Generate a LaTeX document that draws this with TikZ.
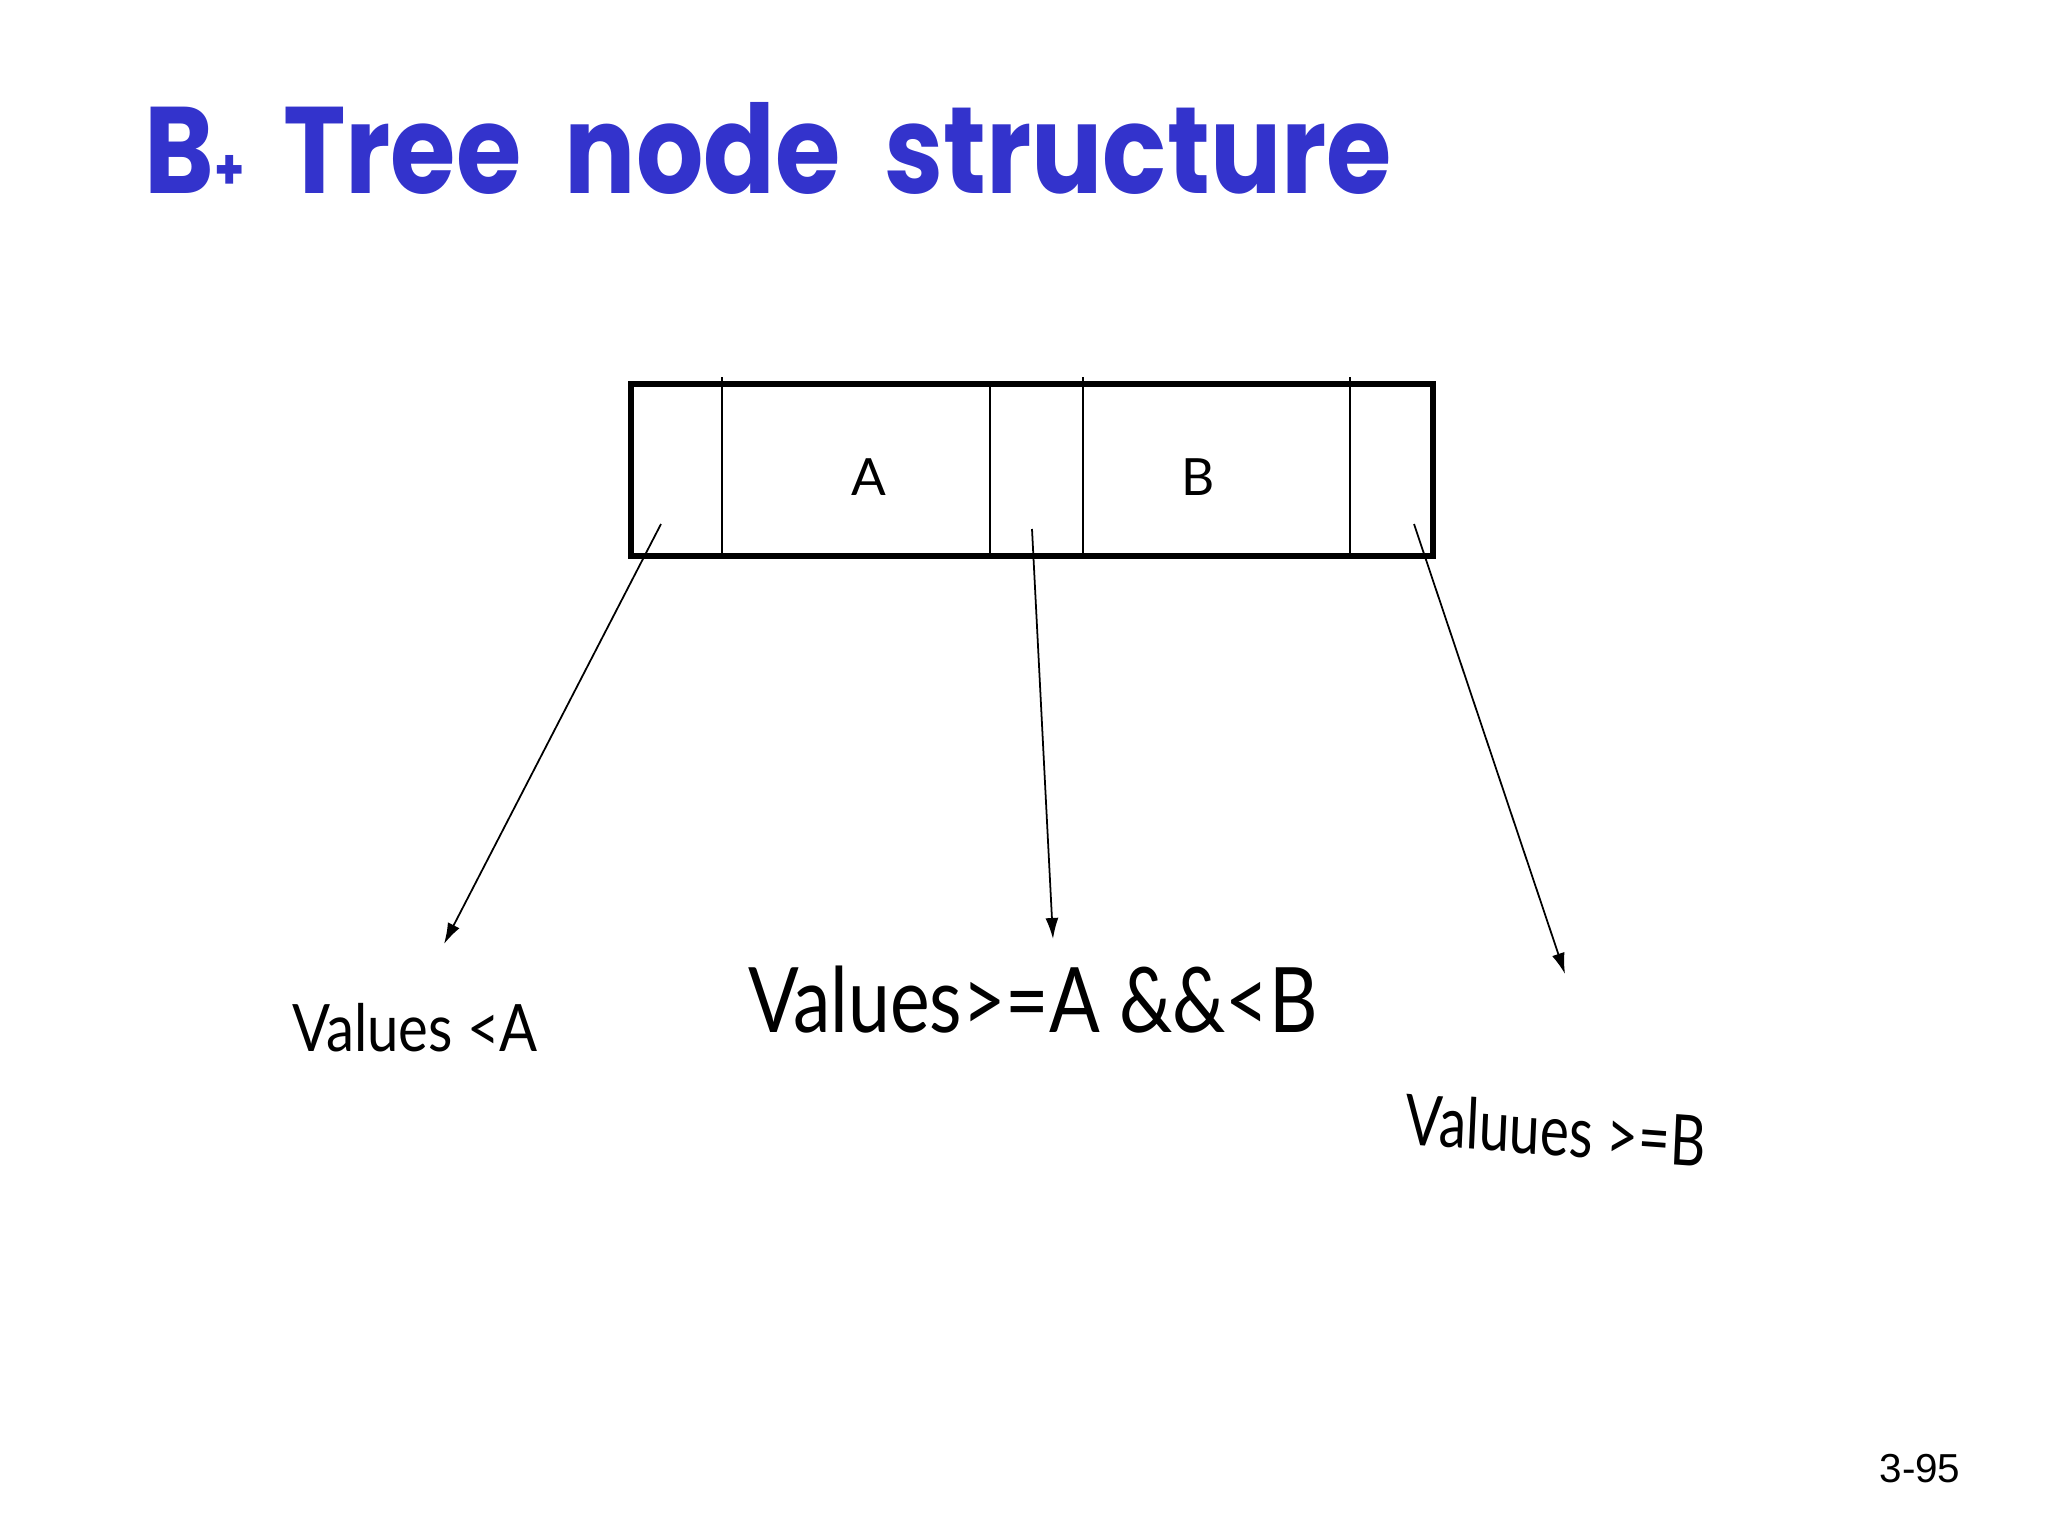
\documentclass[tikz,border=0pt]{standalone}
\usepackage{fontspec}
\setmainfont{Lato}
\newfontfamily\titlefont{Poppins}
\newfontfamily\pagefont{Liberation Sans}
\usetikzlibrary{arrows.meta,positioning}
\definecolor{titleblue}{RGB}{51,51,204}

\begin{document}
\begin{tikzpicture}[
  x=0.01cm, y=-0.01cm,
  keybox/.style={draw, line width=1.6pt, minimum width=8.02cm, minimum height=1.72cm, inner sep=0pt},
  divider/.style={line width=0.4pt},
  keylabel/.style={font=\fontsize{14.6}{16}\selectfont, inner sep=0pt},
  rangelabel/.style={font=\fontsize{18.6}{22}\selectfont, inner sep=0pt},
  ptr/.style={-{Latex[length=2.1mm,width=1.3mm]}, line width=0.5pt}
]
\useasboundingbox (0,0) rectangle (2048,1536);

% title
\node[anchor=base west, inner sep=0pt, text=titleblue, xscale=0.86,
      font=\titlefont\bfseries\fontsize{35}{40}\selectfont] (title) at (144,193)
  {B\raisebox{1pt}{\fontsize{16}{16}\selectfont+}\hspace{0.15em} Tree\hspace{0.2em} node\hspace{0.2em} structure};

% node with two keys and three pointers
\node[keybox] (bnode) at (1032,470) {};
\draw[divider] (722,377) -- (722,556);
\draw[divider] (990,384) -- (990,556);
\draw[divider] (1083,377) -- (1083,556);
\draw[divider] (1350,377) -- (1350,556);
\node[keylabel] (keyA) at (869,477) {A};
\node[keylabel] (keyB) at (1198,477) {B};

% pointers
\coordinate (p0) at (661,524);
\coordinate (p1) at (1032,529);
\coordinate (p2) at (1414,524);
\coordinate (e0) at (444,944);
\coordinate (e1) at (1053,939);
\coordinate (e2) at (1565,974);
\draw[ptr] (p0) -- (e0);
\draw[ptr] (p1) -- (e1);
\draw[ptr] (p2) -- (e2);

% ranges
\node[rangelabel, xscale=0.86] (lessA) at (415,1028) {Values <A};
\node[rangelabel, font=\fontsize{25.7}{30}\selectfont, xscale=0.83] (betweenAB) at (1033,1000) {Values>=A \&\&<B};
\node[rangelabel, font=\fontsize{20}{24}\selectfont, xscale=0.78, rotate=-3.3] (moreB) at (1556,1130) {Valuues >=B};

\node[inner sep=0pt, font=\pagefont\fontsize{11.5}{14}\selectfont] (pageno) at (1920,1469) {3-95};
\end{tikzpicture}
\end{document}
